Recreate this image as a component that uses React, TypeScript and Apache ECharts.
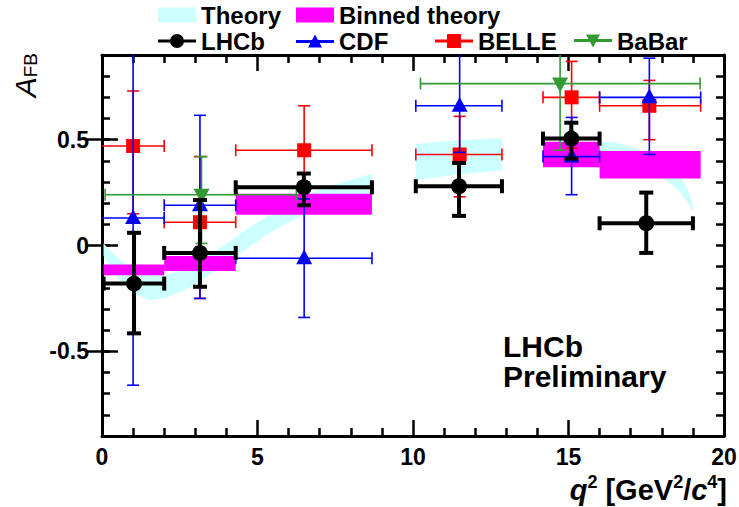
import React, { useEffect, useRef } from 'react';
import * as echarts from 'echarts';

const FONT = '"Liberation Sans", Arial, Helvetica, sans-serif';

const X_MIN = 0;
const X_MAX = 20;
const Y_MIN = -0.9;
const Y_MAX = 0.9;
const yMajorTicks = [-0.5, 0, 0.5];

// LHCb
const lhcbX = [1.03, 3.15, 6.49, 11.48, 15.09, 17.5];
const lhcbXLo = [0.05, 2.0, 4.3, 10.09, 14.18, 16.0];
const lhcbXHi = [2.0, 4.3, 8.68, 12.86, 16.0, 19.0];
const lhcbY = [-0.18, -0.035, 0.275, 0.28, 0.505, 0.105];
const lhcbYLo = [-0.415, -0.195, 0.19, 0.14, 0.41, -0.035];
const lhcbYHi = [0.06, 0.215, 0.34, 0.39, 0.58, 0.25];

// CDF
const cdfX = [1.0, 3.15, 6.5, 11.5, 15.1, 17.6];
const cdfXLo = [0.0, 2.0, 4.3, 10.09, 14.18, 16.0];
const cdfXHi = [2.0, 4.3, 8.68, 12.86, 16.0, 19.25];
const cdfY = [0.13, 0.19, -0.06, 0.66, 0.42, 0.7];
const cdfYLo = [-0.66, -0.25, -0.34, 0.44, 0.24, 0.43];
const cdfYHi = [1.2, 0.615, 0.22, 1.2, 0.605, 0.885];

// BELLE
const belleX = [1.0, 3.15, 6.5, 11.5, 15.1, 17.6];
const belleXLo = [0.0, 2.0, 4.3, 10.09, 14.18, 16.0];
const belleXHi = [2.0, 4.3, 8.68, 12.86, 16.0, 19.25];
const belleY = [0.47, 0.11, 0.45, 0.43, 0.7, 0.66];
const belleYLo = [0.15, -0.25, 0.3, 0.23, 0.46, 0.5];
const belleYHi = [0.73, 0.42, 0.66, 0.61, 0.87, 0.78];

// BaBar
const babarX = [3.2, 14.73];
const babarXLo = [0.1, 10.24];
const babarXHi = [6.25, 19.23];
const babarY = [0.24, 0.765];
const babarYLo = [0.01, 0.45];
const babarYHi = [0.42, 1.3];

// Theory band (three q2 regions)
const theoryQ2A = [0.05, 0.3, 0.6, 1.0, 1.5, 2.0, 2.5, 3.0, 3.5, 4.0, 4.5, 5.0, 5.5, 6.0, 6.5, 7.0, 7.5, 8.0, 8.68];
const theoryLoA = [-0.05, -0.11, -0.17, -0.225, -0.257, -0.25, -0.22, -0.185, -0.135, -0.08, -0.03, 0.02, 0.07, 0.11, 0.145, 0.17, 0.19, 0.205, 0.22];
const theoryHiA = [0.01, -0.03, -0.07, -0.11, -0.14, -0.14, -0.12, -0.08, -0.04, 0.01, 0.06, 0.11, 0.155, 0.195, 0.235, 0.265, 0.29, 0.31, 0.34];
const theoryQ2B = [10.09, 10.5, 11.0, 11.5, 12.0, 12.5, 12.86];
const theoryLoB = [0.31, 0.318, 0.327, 0.335, 0.343, 0.35, 0.355];
const theoryHiB = [0.48, 0.486, 0.492, 0.497, 0.501, 0.504, 0.506];
const theoryQ2C = [14.18, 14.5, 15.0, 15.5, 16.0, 16.5, 17.0, 17.5, 18.0, 18.3, 18.6, 18.85, 19.0];
const theoryLoC = [0.42, 0.425, 0.43, 0.428, 0.42, 0.405, 0.385, 0.355, 0.32, 0.29, 0.25, 0.2, 0.16];
const theoryHiC = [0.47, 0.475, 0.48, 0.485, 0.49, 0.488, 0.467, 0.44, 0.404, 0.37, 0.325, 0.26, 0.19];

// Binned theory
const binQ2Lo = [0.05, 2.0, 4.3, 14.18, 16.0];
const binQ2Hi = [2.0, 4.3, 8.68, 16.0, 19.25];
const binYLo = [-0.14, -0.12, 0.145, 0.37, 0.317];
const binYHi = [-0.09, -0.05, 0.245, 0.49, 0.446];

const theorySegments = [
  { q2: theoryQ2A, lo: theoryLoA, hi: theoryHiA },
  { q2: theoryQ2B, lo: theoryLoB, hi: theoryHiB },
  { q2: theoryQ2C, lo: theoryLoC, hi: theoryHiC },
];

function toErrData(x: number[], y: number[], xl: number[], xh: number[], yl: number[], yh: number[]) {
  return x.map((v, i) => [v, y[i], xl[i], xh[i], yl[i], yh[i]]);
}

type Marker = 'circle' | 'triUp' | 'square' | 'triDown';

function errRenderer(color: string, lineWidth: number, cap: number, marker: Marker, size: number) {
  return (params: any, api: any) => {
    const x = api.value(0);
    const y = api.value(1);
    const xl = api.value(2);
    const xh = api.value(3);
    const yl = api.value(4);
    const yh = api.value(5);
    const xL = Math.max(xl, X_MIN);
    const xH = Math.min(xh, X_MAX);
    const yB = Math.max(yl, Y_MIN);
    const yT = Math.min(yh, Y_MAX);
    const c = api.coord([x, y]);
    const pL = api.coord([xL, y]);
    const pH = api.coord([xH, y]);
    const pB = api.coord([x, yB]);
    const pT = api.coord([x, yT]);
    const ls = { stroke: color, lineWidth };
    const children: any[] = [
      { type: 'line', shape: { x1: pL[0], y1: pL[1], x2: pH[0], y2: pH[1] }, style: ls },
      { type: 'line', shape: { x1: pB[0], y1: pB[1], x2: pT[0], y2: pT[1] }, style: ls },
    ];
    if (xl > X_MIN) children.push({ type: 'line', shape: { x1: pL[0], y1: pL[1] - cap, x2: pL[0], y2: pL[1] + cap }, style: ls });
    if (xh < X_MAX) children.push({ type: 'line', shape: { x1: pH[0], y1: pH[1] - cap, x2: pH[0], y2: pH[1] + cap }, style: ls });
    if (yl >= Y_MIN) children.push({ type: 'line', shape: { x1: pB[0] - cap, y1: pB[1], x2: pB[0] + cap, y2: pB[1] }, style: ls });
    if (yh <= Y_MAX) children.push({ type: 'line', shape: { x1: pT[0] - cap, y1: pT[1], x2: pT[0] + cap, y2: pT[1] }, style: ls });
    const h = size / 2;
    if (marker === 'circle') {
      children.push({ type: 'circle', shape: { cx: c[0], cy: c[1], r: h }, style: { fill: color } });
    } else if (marker === 'square') {
      children.push({ type: 'rect', shape: { x: c[0] - h, y: c[1] - h, width: size, height: size }, style: { fill: color } });
    } else if (marker === 'triUp') {
      children.push({ type: 'polygon', shape: { points: [[c[0], c[1] - h * 1.1], [c[0] + h, c[1] + h * 0.75], [c[0] - h, c[1] + h * 0.75]] }, style: { fill: color } });
    } else {
      children.push({ type: 'polygon', shape: { points: [[c[0], c[1] + h * 1.1], [c[0] + h, c[1] - h * 0.75], [c[0] - h, c[1] - h * 0.75]] }, style: { fill: color } });
    }
    return { type: 'group', children };
  };
}

const bandRender = (params: any, api: any) => {
  const seg = theorySegments[params.dataIndex];
  const top = seg.q2.map((q, i) => api.coord([q, seg.hi[i]]));
  const bot = seg.q2.map((q, i) => api.coord([q, seg.lo[i]])).reverse();
  return { type: 'polygon', shape: { points: top.concat(bot) }, style: { fill: '#ccffff' } };
};

const binRender = (params: any, api: any) => {
  const p0 = api.coord([Math.max(api.value(0), X_MIN), api.value(3)]);
  const p1 = api.coord([Math.min(api.value(1), X_MAX), api.value(2)]);
  return { type: 'rect', shape: { x: p0[0], y: p0[1], width: p1[0] - p0[0], height: p1[1] - p0[1] }, style: { fill: '#ff00ff' } };
};

const COLORS = { lhcb: '#000000', cdf: '#0000ff', belle: '#ff0000', babar: '#339933' };

const iconLine = 'M0,9.5 L38,9.5 L38,12.5 L0,12.5 Z ';
const ICONS = {
  lhcb: 'path://' + iconLine + 'M19,4 A7,7 0 1,1 19,18 A7,7 0 1,1 19,4 Z',
  cdf: 'path://' + iconLine + 'M19,4 L26,17 L12,17 Z',
  belle: 'path://' + iconLine + 'M12,4 L26,4 L26,18 L12,18 Z',
  babar: 'path://' + iconLine + 'M12,5 L26,5 L19,18 Z',
};

const legendText = { fontSize: 24, fontWeight: 'bold' as const, color: '#000', fontFamily: FONT, lineHeight: 22 };
function legendAt(name: string, icon: string, left: number, top: number, h: number) {
  return {
    show: true, left, top, padding: 0, itemWidth: 38, itemHeight: h, itemGap: 0,
    selectedMode: false, textStyle: legendText, data: [{ name, icon }],
  };
}

const tickStyle = { color: '#000', width: 2.5 };

function xAxisDef(position: 'bottom' | 'top', labels: boolean) {
  return {
    type: 'value', position, min: X_MIN, max: X_MAX, interval: 5,
    axisLine: { show: true, onZero: false, lineStyle: { color: '#000', width: 3 } },
    axisTick: { show: true, inside: true, length: 16, lineStyle: tickStyle },
    minorTick: { show: true, splitNumber: 5, length: 8, lineStyle: tickStyle },
    splitLine: { show: false },
    minorSplitLine: { show: false },
    axisLabel: { show: labels, fontSize: 23, fontWeight: 'bold', color: '#000', fontFamily: FONT, margin: 9 },
  };
}

function yMinorAxis(position: 'left' | 'right', labels: boolean) {
  return {
    type: 'value', position, min: Y_MIN, max: Y_MAX, interval: 0.1,
    axisLine: { show: true, onZero: false, lineStyle: { color: '#000', width: 3 } },
    axisTick: { show: true, inside: true, length: 8, lineStyle: tickStyle },
    splitLine: { show: false },
    axisLabel: {
      show: labels, customValues: yMajorTicks, fontSize: 23, fontWeight: 'bold', color: '#000', fontFamily: FONT, margin: 13,
      formatter: (v: number) => (Math.abs(v) < 1e-9 ? '0' : String(Math.round(v * 10) / 10)),
    },
  };
}

function yMajorAxis(position: 'left' | 'right') {
  return {
    type: 'value', position, min: Y_MIN, max: Y_MAX,
    axisLine: { show: false },
    axisTick: { show: true, inside: true, length: 16, customValues: yMajorTicks, lineStyle: tickStyle },
    axisLabel: { show: false },
    splitLine: { show: false },
  };
}

const option: any = {
  animation: false,
  backgroundColor: '#ffffff',
  textStyle: { fontFamily: FONT },
  grid: { left: 102, right: 15, top: 55, bottom: 71, containLabel: false, outerBoundsMode: 'none' },
  legend: [
    legendAt('Theory', 'rect', 158, 3, 15),
    legendAt('Binned theory', 'rect', 296, 3, 15),
    legendAt('LHCb', ICONS.lhcb, 158, 29, 14),
    legendAt('CDF', ICONS.cdf, 296, 29, 14),
    legendAt('BELLE', ICONS.belle, 435, 29, 14),
    legendAt('BaBar', ICONS.babar, 574, 29, 14),
  ],
  xAxis: [
    {
      ...xAxisDef('bottom', true),
      name: '{i|q}{s|2}{n| [GeV}{s|2}{n|/}{i|c}{s|4}{n|]}',
      nameLocation: 'end',
      nameGap: 3,
      nameTextStyle: {
        align: 'right', verticalAlign: 'top', padding: [37, 0, 0, 0],
        rich: {
          n: { fontSize: 29, fontWeight: 'bold', color: '#000', fontFamily: FONT, lineHeight: 31, verticalAlign: 'bottom' },
          i: { fontSize: 29, fontWeight: 'bold', fontStyle: 'italic', color: '#000', fontFamily: FONT, lineHeight: 31, verticalAlign: 'bottom' },
          s: { fontSize: 18, fontWeight: 'bold', color: '#000', fontFamily: FONT, lineHeight: 31, verticalAlign: 'top' },
        },
      },
    },
    xAxisDef('top', false),
  ],
  yAxis: [
    {
      ...yMinorAxis('left', true),
      name: '{a|A}{b|FB}',
      nameLocation: 'end',
      nameRotate: 90,
      nameGap: 2,
      nameTextStyle: {
        align: 'right', verticalAlign: 'bottom', padding: [0, 0, 62, 0],
        rich: {
          a: { fontSize: 30, fontStyle: 'italic', color: '#000', fontFamily: FONT, lineHeight: 30, verticalAlign: 'bottom' },
          b: { fontSize: 19, color: '#000', fontFamily: FONT, lineHeight: 40, verticalAlign: 'bottom' },
        },
      },
    },
    yMajorAxis('left'),
    yMinorAxis('right', false),
    yMajorAxis('right'),
  ],
  graphic: [
    {
      type: 'text', left: 503, top: 331,
      style: { text: 'LHCb\nPreliminary', font: `bold 30px ${FONT}`, fill: '#000', lineHeight: 30 },
    },
  ],
  series: [
    {
      name: 'Theory', type: 'custom', xAxisIndex: 0, yAxisIndex: 0, clip: true,
      itemStyle: { color: '#ccffff' },
      data: theorySegments.map((s, i) => [s.q2[0], s.lo[0], i]),
      renderItem: bandRender, z: 1,
    },
    {
      name: 'Binned theory', type: 'custom', xAxisIndex: 0, yAxisIndex: 0, clip: true,
      itemStyle: { color: '#ff00ff' },
      data: binQ2Lo.map((v, i) => [v, binQ2Hi[i], binYLo[i], binYHi[i]]),
      renderItem: binRender, z: 2,
    },
    {
      name: 'BELLE', type: 'custom', xAxisIndex: 0, yAxisIndex: 0, clip: true,
      itemStyle: { color: COLORS.belle },
      data: toErrData(belleX, belleY, belleXLo, belleXHi, belleYLo, belleYHi),
      renderItem: errRenderer(COLORS.belle, 1.6, 6, 'square', 14), z: 3,
    },
    {
      name: 'CDF', type: 'custom', xAxisIndex: 0, yAxisIndex: 0, clip: true,
      itemStyle: { color: COLORS.cdf },
      data: toErrData(cdfX, cdfY, cdfXLo, cdfXHi, cdfYLo, cdfYHi),
      renderItem: errRenderer(COLORS.cdf, 1.6, 6, 'triUp', 16), z: 4,
    },
    {
      name: 'BaBar', type: 'custom', xAxisIndex: 0, yAxisIndex: 0, clip: true,
      itemStyle: { color: COLORS.babar },
      data: toErrData(babarX, babarY, babarXLo, babarXHi, babarYLo, babarYHi),
      renderItem: errRenderer(COLORS.babar, 1.6, 6, 'triDown', 16), z: 5,
    },
    {
      name: 'LHCb', type: 'custom', xAxisIndex: 0, yAxisIndex: 0, clip: true,
      itemStyle: { color: COLORS.lhcb },
      data: toErrData(lhcbX, lhcbY, lhcbXLo, lhcbXHi, lhcbYLo, lhcbYHi),
      renderItem: errRenderer(COLORS.lhcb, 4, 7, 'circle', 16), z: 6,
    },
  ],
};

export default function App() {
  const ref = useRef<HTMLDivElement>(null);
  useEffect(() => {
    const chart = echarts.init(ref.current as HTMLDivElement, null, { renderer: 'svg' });
    chart.setOption(option);
    return () => chart.dispose();
  }, []);
  return (
    <div
      ref={ref}
      style={{ position: 'fixed', left: 0, top: 0, width: 739, height: 507, background: '#ffffff' }}
    />
  );
}
